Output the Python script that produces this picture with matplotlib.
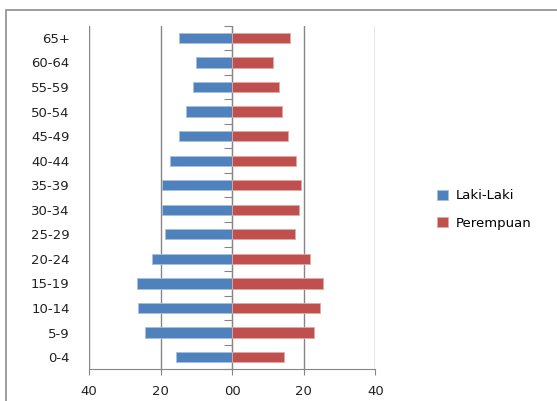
import matplotlib
matplotlib.use("Agg")
import matplotlib.pyplot as plt
from matplotlib.patches import Rectangle
import numpy as np

# age groups, bottom to top
kelompok_umur = ['0-4', '5-9', '10-14', '15-19', '20-24', '25-29', '30-34',
                 '35-39', '40-44', '45-49', '50-54', '55-59', '60-64', '65+']
laki_laki = [15.6, 24.4, 26.4, 26.7, 22.4, 18.9, 19.6,
             19.6, 17.5, 14.9, 13.0, 11.0, 10.2, 14.9]
perempuan = [14.5, 22.7, 24.4, 25.3, 21.8, 17.5, 18.7,
             19.2, 17.9, 15.6, 13.9, 13.0, 11.3, 16.1]
x_ticks = [-40, -20, 0, 20, 40]
x_ticklabels = ['40', '20', '00', '20', '40']

blue = '#4F81BD'
red = '#C0504D'
grey = '#868686'

fig = plt.figure(figsize=(5.57, 4.01), dpi=100)
ax = fig.add_axes([0.160, 0.079, 0.514, 0.857])

y = np.arange(len(kelompok_umur))
ax.barh(y, [-v for v in laki_laki], height=0.42, color=blue, edgecolor='#A7BFDE',
        linewidth=0.6, label='Laki-Laki', zorder=3)
ax.barh(y, perempuan, height=0.42, color=red, edgecolor='#E0A9A8',
        linewidth=0.6, label='Perempuan', zorder=3)

ax.set_xlim(-40, 40)
ax.set_ylim(-0.5, len(kelompok_umur) - 0.5)

# vertical gridlines
ax.set_xticks(x_ticks)
ax.set_xticklabels(x_ticklabels, fontsize=9.5, color='#222222')
ax.xaxis.grid(True, color=grey, linewidth=1.0)
ax.tick_params(axis='x', length=4, color=grey, pad=7.5)

# category labels on left
ax.set_yticks(y)
ax.set_yticklabels(kelompok_umur, fontsize=9.5, color='#222222')
ax.tick_params(axis='y', length=0, pad=14)

for s in ['top', 'right', 'left']:
    ax.spines[s].set_visible(False)
ax.spines['bottom'].set_color(grey)

# zero axis with tick marks between categories
sec = ax.secondary_yaxis(0.5)
sec.set_yticks(np.arange(len(kelompok_umur) + 1) - 0.5)
sec.set_yticklabels([])
sec.tick_params(length=6, color=grey, direction='in')
for s in sec.spines.values():
    s.set_color(grey)

leg = ax.legend(loc='center left', bbox_to_anchor=(1.175, 0.465), frameon=False,
                fontsize=9.5, handlelength=0.8, handleheight=0.8,
                labelspacing=1.1, handletextpad=0.6)

# chart border (left and top visible)
fig.patches.append(Rectangle((6 / 557, -0.1), 1.2, 1 - 9.5 / 401 + 0.1,
                             transform=fig.transFigure, fill=False,
                             edgecolor='#8C8C8C', linewidth=1.2))

plt.savefig('out.png', dpi=100)
